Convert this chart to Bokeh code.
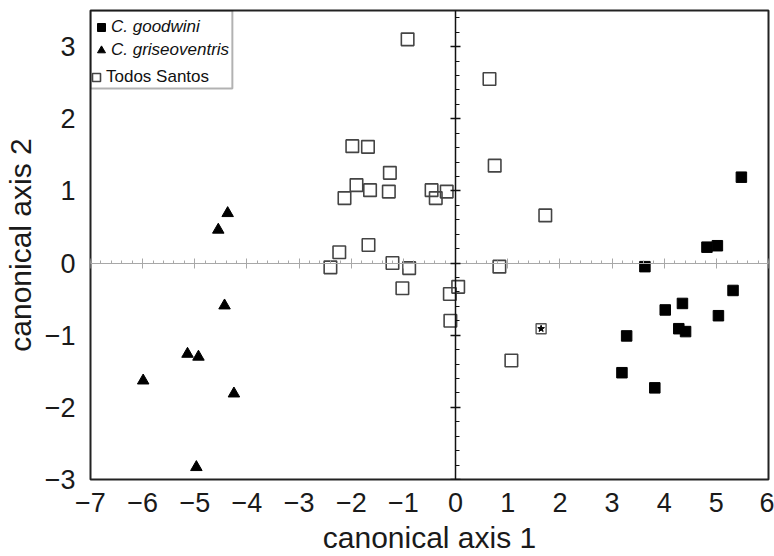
from bokeh.plotting import figure
from bokeh.models import (LinearAxis, FixedTicker, SingleIntervalTicker, Legend,
                          LegendItem, BoxAnnotation, Range1d)
from bokeh.embed import file_html
from bokeh.resources import INLINE

# ---- data ----
goodwini_x = [5.48, 4.82, 5.02, 3.63, 5.32, 4.35, 4.02, 5.04, 4.28, 4.41, 3.28, 3.19, 3.82]
goodwini_y = [1.19, 0.22, 0.24, -0.05, -0.38, -0.56, -0.65, -0.73, -0.91, -0.95, -1.01, -1.52, -1.73]

griseo_x = [-4.37, -4.55, -4.43, -5.14, -4.93, -5.99, -4.25, -4.97]
griseo_y = [0.69, 0.46, -0.59, -1.26, -1.30, -1.63, -1.81, -2.83]

todos_x = [-0.92, 0.65, -1.98, -1.68, 0.75, -1.26, -1.90, -1.64, -1.28, -2.13, -0.46,
           -0.38, -0.17, 1.72, -1.67, -2.23, -2.40, -1.21, -0.89, -1.02, 0.84, 0.05,
           -0.11, -0.10, 1.07]
todos_y = [3.10, 2.55, 1.62, 1.61, 1.35, 1.25, 1.08, 1.01, 0.99, 0.90, 1.01,
           0.90, 0.99, 0.66, 0.25, 0.15, -0.06, 0.00, -0.07, -0.35, -0.05, -0.33,
           -0.43, -0.80, -1.35]

star_x = [1.64]
star_y = [-0.91]

x_ticks = [-7, -6, -5, -4, -3, -2, -1, 0, 1, 2, 3, 4, 5, 6]
y_ticks = [-3, -2, -1, 0, 1, 2, 3]

FONT = "Liberation Sans"

p = figure(width=774, height=556,
           x_range=Range1d(-7, 6), y_range=Range1d(-3, 3.5),
           output_backend="svg", toolbar_location=None,
           min_border_left=90, min_border_right=6, min_border_top=10, min_border_bottom=77)
p.grid.visible = False
p.outline_line_color = "#222222"
p.outline_line_width = 2
p.background_fill_color = "white"
p.border_fill_color = "white"

for ax, ticks, label in ((p.xaxis[0], x_ticks, "canonical axis 1"), (p.yaxis[0], y_ticks, "canonical axis 2")):
    ax.ticker = FixedTicker(ticks=ticks)
    ax.major_tick_in = 0
    ax.major_tick_out = 0
    ax.minor_tick_in = 0
    ax.minor_tick_out = 0
    ax.axis_line_color = None
    ax.major_label_text_font = FONT
    ax.major_label_text_font_size = "27px"
    ax.major_label_text_color = "#1a1a1a"
    ax.axis_label = label
    ax.axis_label_text_font = FONT
    ax.axis_label_text_font_size = "30px"
    ax.axis_label_text_font_style = "normal"
    ax.axis_label_text_color = "#1a1a1a"

p.xaxis[0].major_label_standoff = 13
p.xaxis[0].axis_label_standoff = 6
p.yaxis[0].major_label_standoff = 15
p.yaxis[0].axis_label_standoff = 5

# zero lines drawn as axes fixed at 0
xzero = LinearAxis(fixed_location=0, ticker=SingleIntervalTicker(interval=1, num_minor_ticks=5),
                   axis_line_color="#a8a8a8", axis_line_width=1,
                   major_tick_line_color="#a8a8a8", minor_tick_line_color="#a8a8a8",
                   major_tick_in=5, major_tick_out=5, minor_tick_in=3, minor_tick_out=0,
                   major_label_text_font_size="0px", major_label_standoff=0)
p.add_layout(xzero, "below")

yzero = LinearAxis(fixed_location=0, ticker=SingleIntervalTicker(interval=1, num_minor_ticks=5),
                   axis_line_color="#111111", axis_line_width=1.5,
                   major_tick_line_color="#111111", minor_tick_line_color="#111111",
                   major_tick_line_width=1.5,
                   major_tick_in=5, major_tick_out=5, minor_tick_in=4, minor_tick_out=0,
                   major_label_text_font_size="0px", major_label_standoff=0)
p.add_layout(yzero, "left")

r_g = p.scatter(goodwini_x, goodwini_y, marker="square", size=10.5,
                fill_color="black", line_color="black")
r_t = p.scatter(griseo_x, griseo_y, marker="triangle", size=11.5,
                fill_color="black", line_color="black")
r_s = p.scatter(todos_x, todos_y, marker="square", size=12.5,
                fill_color=None, line_color="#444444", line_width=1.6)
p.scatter(star_x, star_y, marker="square", size=10,
          fill_color=None, line_color="#555555", line_width=1.4)
p.scatter(star_x, star_y, marker="star", size=7,
          fill_color="black", line_color="black")

common = dict(margin=0, padding=0, glyph_width=20, glyph_height=20,
              label_height=20, label_text_font=FONT, label_text_font_size="17px",
              label_text_color="#111111", border_line_color=None, background_fill_alpha=0)

legA = Legend(items=[LegendItem(label="C. goodwini", renderers=[r_g]),
                     LegendItem(label="C. griseoventris", renderers=[r_t])],
              location=(1, 419), spacing=3, label_standoff=0,
              label_text_font_style="italic", **common)
p.add_layout(legA)

legB = Legend(items=[LegendItem(label="Todos Santos", renderers=[r_s])],
              location=(-4, 392), spacing=3, label_standoff=0,
              label_text_font_style="normal", **common)
p.add_layout(legB)

box = BoxAnnotation(left=-7, right=-4.28, top=3.5, bottom=2.42,
                    fill_color=None, line_color="black", line_width=2)
p.add_layout(box)

open("out.html", "w").write(file_html(p, INLINE))
